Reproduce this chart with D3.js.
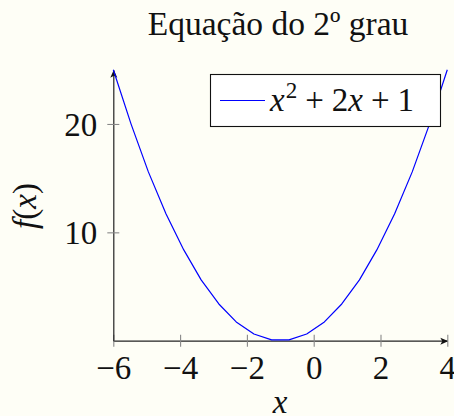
<!DOCTYPE html>
<html>
<head>
<meta charset="utf-8">
<script src="https://cdn.jsdelivr.net/npm/d3@7"></script>
<style>
  html, body { margin: 0; padding: 0; background: #fefef6; }
  svg { display: block; }
</style>
</head>
<body>
<div class="canvas"></div>
<script>
// sampled points of the plotted curve (20 samples between -6 and 4)
const xValues = [-6, -5.47, -4.95, -4.42, -3.89, -3.37, -2.84, -2.32, -1.79, -1.26,
  -0.74, -0.21, 0.32, 0.84, 1.37, 1.89, 2.42, 2.95, 3.47, 4];
const yValues = [25, 20.01, 15.58, 11.7, 8.38, 5.61, 3.39, 1.73, 0.62, 0.07,
  0.07, 0.62, 1.73, 3.39, 5.61, 8.38, 11.7, 15.58, 20.01, 25];
const xTicks = [-6, -4, -2, 0, 2, 4];
const yTicks = [10, 20];
const title = 'Equação do 2º grau';

const dimensions = { width: 454, height: 416 };
const plot = { left: 113.3, right: 447.3, top: 69.8, bottom: 340.7 };
const fontSize = 33;
const serif = 'Liberation Serif';

const svg = d3
  .select('.canvas')
  .append('svg')
  .attr('width', dimensions.width)
  .attr('height', dimensions.height)
  .attr('font-family', serif);

svg
  .append('defs')
  .append('marker')
  .attr('id', 'arrow')
  .attr('viewBox', '0 -4 8 8')
  .attr('refX', 7.5)
  .attr('refY', 0)
  .attr('markerWidth', 8)
  .attr('markerHeight', 8)
  .attr('markerUnits', 'userSpaceOnUse')
  .attr('orient', 'auto')
  .append('path')
  .attr('d', 'M0,-3.5L8,0L0,3.5L2,0Z')
  .attr('fill', '#111');

const x = d3.scaleLinear().domain([-6, 4]).range([plot.left, plot.right]);
const y = d3.scaleLinear().domain([0, 25]).range([plot.bottom, plot.top]);

// axes (middle style, ticks centred on the line)
const xAxis = svg
  .append('g')
  .attr('transform', `translate(0, ${plot.bottom})`)
  .call(d3.axisBottom(x).tickValues(xTicks).tickSizeOuter(0).tickSizeInner(6));

const yAxis = svg
  .append('g')
  .attr('transform', `translate(${plot.left}, 0)`)
  .call(d3.axisLeft(y).tickValues(yTicks).tickSizeOuter(0).tickSizeInner(6));

[xAxis, yAxis].forEach((axis) => {
  axis.attr('font-family', serif).attr('font-size', fontSize);
  axis
    .select('.domain')
    .attr('stroke', '#222')
    .attr('stroke-width', 1.2)
    .attr('marker-end', 'url(#arrow)');
  axis.selectAll('.tick line').attr('stroke', '#888').attr('stroke-width', 1.1);
  axis.selectAll('.tick text').attr('fill', '#111');
});

xAxis.selectAll('.tick line').attr('y1', -6).attr('y2', 6);
xAxis.selectAll('.tick text').attr('y', 38.5).attr('dy', null);
yAxis.selectAll('.tick line').attr('x1', -6).attr('x2', 6);
yAxis.selectAll('.tick text').attr('x', -16).attr('dy', '0.34em');

// curve
const points = xValues.map((d, i) => [d, yValues[i]]);
const line = d3
  .line()
  .x((d) => x(d[0]))
  .y((d) => y(d[1]));

svg
  .append('path')
  .datum(points)
  .attr('d', line)
  .attr('fill', 'none')
  .attr('stroke', '#0000ff')
  .attr('stroke-width', 1.2)
  .attr('stroke-linejoin', 'round');

// title and axis labels
svg
  .append('text')
  .attr('x', 278)
  .attr('y', 34.5)
  .attr('text-anchor', 'middle')
  .attr('font-size', fontSize + 0.5)
  .attr('fill', '#111')
  .text(title);

svg
  .append('text')
  .attr('x', 280)
  .attr('y', 413)
  .attr('text-anchor', 'middle')
  .attr('font-size', fontSize)
  .attr('font-style', 'italic')
  .attr('fill', '#111')
  .text('x');

const yLabel = svg
  .append('text')
  .attr('transform', 'translate(36, 206) rotate(-90)')
  .attr('text-anchor', 'middle')
  .attr('font-size', fontSize)
  .attr('fill', '#111');
yLabel.append('tspan').attr('font-style', 'italic').text('f');
yLabel.append('tspan').text('(');
yLabel.append('tspan').attr('font-style', 'italic').text('x');
yLabel.append('tspan').text(')');

// legend
const legendGroup = svg.append('g');
legendGroup
  .append('rect')
  .attr('x', 210.5)
  .attr('y', 74.5)
  .attr('width', 230)
  .attr('height', 52)
  .attr('fill', '#ffffff')
  .attr('stroke', '#111')
  .attr('stroke-width', 1.1);

legendGroup
  .append('line')
  .attr('x1', 220)
  .attr('x2', 265)
  .attr('y1', 100.5)
  .attr('y2', 100.5)
  .attr('stroke', '#0000ff')
  .attr('stroke-width', 1.2);

const legendText = legendGroup
  .append('text')
  .attr('x', 270)
  .attr('y', 111)
  .attr('font-size', fontSize)
  .attr('fill', '#111');
legendText.append('tspan').attr('font-style', 'italic').text('x');
legendText.append('tspan').attr('font-size', fontSize * 0.7).attr('dy', -13).attr('dx', 1).text('2');
legendText.append('tspan').attr('dy', 13).attr('dx', 8).text('+');
legendText.append('tspan').attr('dx', 8).text('2');
legendText.append('tspan').attr('font-style', 'italic').text('x');
legendText.append('tspan').attr('dx', 8).text('+');
legendText.append('tspan').attr('dx', 8).text('1');
</script>
</body>
</html>
